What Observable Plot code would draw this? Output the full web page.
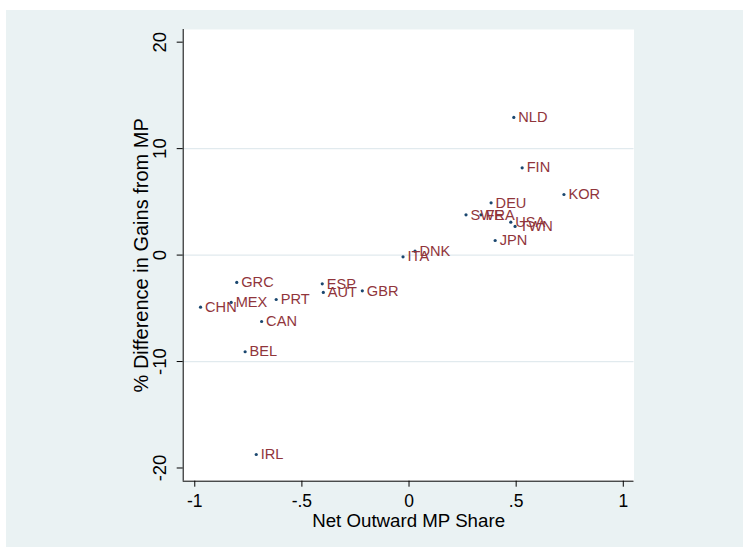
<!DOCTYPE html>
<html><head><meta charset="utf-8">
<script src="https://cdn.jsdelivr.net/npm/d3@7"></script>
<script src="https://cdn.jsdelivr.net/npm/@observablehq/plot@0.6"></script>
<style>
body{margin:0;background:#fff;}
#chart{position:absolute;left:6px;top:10px;}
</style></head><body><div id="chart"></div>
<script>
const countries = ["NLD","FIN","KOR","DEU","SWE","FRA","USA","TWN","JPN","DNK","ITA","GRC","ESP","AUT","GBR","MEX","CHN","PRT","CAN","BEL","IRL"];
const netOutward = [0.489,0.528,0.723,0.383,0.266,0.336,0.475,0.495,0.402,0.028,-0.028,-0.804,-0.405,-0.400,-0.218,-0.830,-0.973,-0.620,-0.688,-0.765,-0.713];
const gainDiff = [12.93,8.20,5.69,4.91,3.78,3.78,3.09,2.69,1.37,0.37,-0.16,-2.57,-2.70,-3.51,-3.36,-4.45,-4.89,-4.17,-6.24,-9.08,-18.73];
const xTicks = [-1,-0.5,0,0.5,1];
const xTickLabels = ["-1","-.5","0",".5","1"];
const yTicks = [-20,-10,0,10,20];
const yTickLabels = ["-20","-10","0","10","20"];
const yGrid = [-10,0,10];
const xTitle = "Net Outward MP Share";
const yTitle = "% Difference in Gains from MP";

const data = countries.map((c,i)=>({country:c,x:netOutward[i],y:gainDiff[i]}));
const xDomain = [-1.054,1.05];
const yDomain = [-21.24,21.19];
const font = "'Liberation Sans', Arial, sans-serif";

const chart = Plot.plot({
  width:737, height:537,
  marginLeft:176.7, marginRight:109.5, marginTop:19, marginBottom:66.3,
  x:{domain:xDomain}, y:{domain:yDomain},
  style:{background:"#eaf2f3", fontFamily:font, color:"#000", overflow:"visible"},
  marks:[
    Plot.frame({fill:"white", stroke:null}),
    Plot.ruleY(yGrid,{stroke:"#e1eaee", strokeWidth:1.3}),
    Plot.ruleX([xDomain[0]],{stroke:"#000", strokeWidth:1}),
    Plot.ruleY([yDomain[0]],{stroke:"#000", strokeWidth:1}),
    Plot.axisX({ticks:xTicks, tickSize:6, tickFormat:()=>"", label:null, stroke:"#000"}),
    Plot.axisY({ticks:yTicks, tickSize:6, tickFormat:()=>"", label:null, stroke:"#000"}),
    Plot.text(xTicks,{x:d=>d, text:(d,i)=>xTickLabels[i], frameAnchor:"bottom", dy:20, fontSize:17.5, textAnchor:"middle", lineAnchor:"middle", fill:"#000"}),
    Plot.text(yTicks,{y:d=>d, text:(d,i)=>yTickLabels[i], frameAnchor:"left", dx:-23, rotate:-90, fontSize:18.5, textAnchor:"middle", lineAnchor:"middle", fill:"#000"}),
    Plot.text([xTitle],{text:d=>d, frameAnchor:"bottom", dy:39.5, fontSize:18.7, textAnchor:"middle", lineAnchor:"middle", fill:"#000"}),
    Plot.text([yTitle],{text:d=>d, frameAnchor:"left", dx:-42, rotate:-90, fontSize:20, textAnchor:"middle", lineAnchor:"middle", fill:"#000"}),
    Plot.dot(data,{x:"x", y:"y", r:1.6, fill:"#1a476f", stroke:null}),
    Plot.text(data,{x:"x", y:"y", text:"country", textAnchor:"start", dx:4.5, fontSize:14.6, fill:"#90353b", lineAnchor:"middle"})
  ]
});
document.getElementById("chart").appendChild(chart);
</script>
</body></html>
